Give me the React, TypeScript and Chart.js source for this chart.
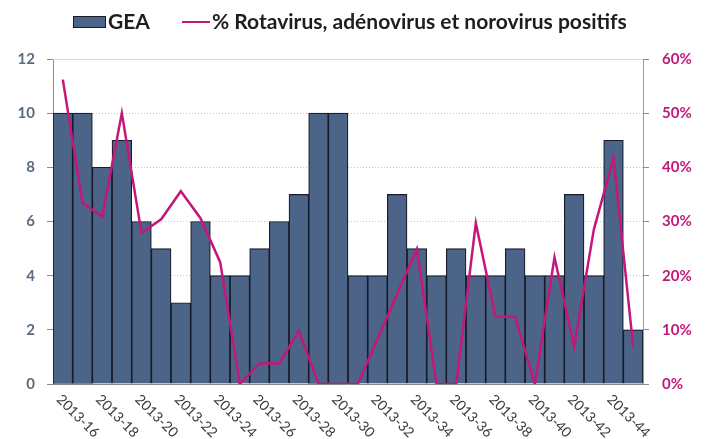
import { useEffect, useRef } from 'react';
import { Chart, registerables } from 'chart.js';

Chart.register(...registerables);

const weeks = [
  '2013-16', '2013-17', '2013-18', '2013-19', '2013-20', '2013-21', '2013-22', '2013-23',
  '2013-24', '2013-25', '2013-26', '2013-27', '2013-28', '2013-29', '2013-30', '2013-31',
  '2013-32', '2013-33', '2013-34', '2013-35', '2013-36', '2013-37', '2013-38', '2013-39',
  '2013-40', '2013-41', '2013-42', '2013-43', '2013-44', '2013-45',
];

const geaCounts = [10, 10, 8, 9, 6, 5, 3, 6, 4, 4, 5, 6, 7, 10, 10, 4, 4, 7, 5, 4, 5, 4, 4, 5, 4, 4, 7, 4, 9, 2];

const positivePct = [
  56.2, 33.4, 30.9, 50, 27.9, 30.4, 35.6, 30.6, 22.5, 0,
  3.8, 3.8, 9.8, 0, 0, 0, 8.3, 16.6, 24.9, 0,
  0, 29.7, 12.4, 12.4, 0, 23.4, 6.9, 28.5, 41.7, 6.9,
];

const BAR_LABEL = 'GEA';
const LINE_LABEL = '% Rotavirus, adénovirus et norovirus positifs';

const BAR_COLOR = '#4d6489';
const BAR_BORDER = '#161c2b';
const LINE_COLOR = '#c4177a';
const LEFT_TICK_COLOR = '#5b6b82';
const RIGHT_TICK_COLOR = '#c4177a';
const FONT = 'Lato, "Open Sans", sans-serif';

export default function App() {
  const ref = useRef<HTMLCanvasElement>(null);

  useEffect(() => {
    document.body.style.margin = '0';
    const canvas = ref.current;
    if (!canvas) return;

    const legendPlugin = {
      id: 'customLegend',
      afterDraw(chart: any) {
        const c = chart.ctx;
        c.save();
        c.fillStyle = BAR_COLOR;
        c.fillRect(73, 16, 33, 12);
        c.strokeStyle = BAR_BORDER;
        c.lineWidth = 1;
        c.strokeRect(73.5, 16.5, 32, 11);
        c.font = `bold 21px ${FONT}`;
        c.fillStyle = '#1e1e1e';
        c.textBaseline = 'alphabetic';
        c.textAlign = 'left';
        c.fillText(BAR_LABEL, 108, 29);
        c.strokeStyle = LINE_COLOR;
        c.lineWidth = 2;
        c.beginPath();
        c.moveTo(182, 22);
        c.lineTo(210, 22);
        c.stroke();
        c.fillText(LINE_LABEL, 212, 29);
        c.restore();
      },
    };

    const topLinePlugin = {
      id: 'topLine',
      beforeDatasetsDraw(chart: any) {
        const { ctx: c, chartArea } = chart;
        c.save();
        c.strokeStyle = '#d9d9d9';
        c.lineWidth = 1;
        c.beginPath();
        c.moveTo(chartArea.left, Math.round(chartArea.top) + 0.5);
        c.lineTo(chartArea.right, Math.round(chartArea.top) + 0.5);
        c.stroke();
        c.restore();
      },
    };

    const xLabelPlugin = {
      id: 'xLabels',
      afterDraw(chart: any) {
        const c = chart.ctx;
        const xs = chart.scales.x;
        const y0 = chart.chartArea.bottom;
        c.save();
        c.font = `14px ${FONT}`;
        c.fillStyle = '#3a3a3a';
        c.textAlign = 'left';
        c.textBaseline = 'middle';
        weeks.forEach((w, i) => {
          if (i % 2 !== 0) return;
          const x = xs.getPixelForValue(i);
          c.save();
          c.translate(x - 4, y0 + 13);
          c.rotate(Math.PI / 4);
          c.fillText(w, 0, 0);
          c.restore();
        });
        c.restore();
      },
    };

    const chart = new Chart(canvas, {
      data: {
        labels: weeks,
        datasets: [
          {
            type: 'line',
            label: LINE_LABEL,
            data: positivePct,
            yAxisID: 'y1',
            borderColor: LINE_COLOR,
            borderWidth: 2.5,
            pointRadius: 0,
            tension: 0,
            fill: false,
            order: 0,
          },
          {
            type: 'bar',
            label: BAR_LABEL,
            data: geaCounts,
            yAxisID: 'y',
            backgroundColor: BAR_COLOR,
            borderColor: BAR_BORDER,
            borderWidth: 1.2,
            categoryPercentage: 1,
            barPercentage: 1,
            order: 1,
          },
        ],
      } as any,
      options: {
        responsive: false,
        animation: false,
        layout: { padding: { top: 59, left: 0, right: 0, bottom: 0 } },
        plugins: {
          legend: { display: false },
          tooltip: { enabled: false },
        },
        scales: {
          x: {
            type: 'category',
            offset: true,
            grid: { display: false },
            border: { display: true, color: '#8a8a8a' },
            ticks: { display: false },
            afterFit(scale: any) {
              scale.height = 55;
            },
          },
          y: {
            position: 'left',
            min: 0,
            max: 12,
            ticks: {
              stepSize: 2,
              padding: 12,
              color: LEFT_TICK_COLOR,
              font: { family: FONT, size: 15, weight: 'bold' },
            },
            grid: {
              color: (ctx: any) => (ctx.tick && (ctx.tick.value === 0 || ctx.tick.value === 12) ? 'rgba(0,0,0,0)' : '#c4c4c4'),
              tickColor: '#8a8a8a',
              tickLength: 6,
              tickBorderDash: [],
              lineWidth: 1,
            },
            border: { display: true, color: '#8a8a8a', dash: [1, 2] },
            afterFit(scale: any) {
              scale.width = 53;
            },
          },
          y1: {
            position: 'right',
            min: 0,
            max: 60,
            ticks: {
              stepSize: 10,
              padding: 13,
              color: RIGHT_TICK_COLOR,
              font: { family: FONT, size: 15, weight: 'bold' },
              callback: (v: any) => `${v}%`,
            },
            grid: {
              drawOnChartArea: false,
              tickColor: '#8a8a8a',
              tickLength: 6,
            },
            border: { display: true, color: '#9a9a9a' },
            afterFit(scale: any) {
              scale.width = 64;
            },
          },
        },
      } as any,
      plugins: [legendPlugin, topLinePlugin, xLabelPlugin],
    });

    return () => chart.destroy();
  }, []);

  return (
    <div style={{ width: 707, height: 439, background: '#fff' }}>
      <canvas ref={ref} width={707} height={439} />
    </div>
  );
}
